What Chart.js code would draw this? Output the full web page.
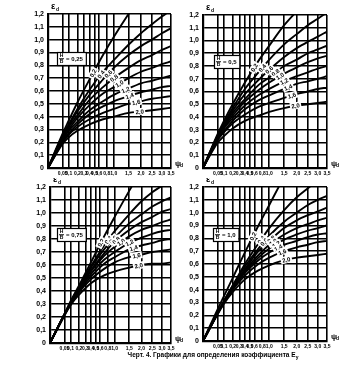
<!DOCTYPE html>
<html><head><meta charset="utf-8">
<script src="https://cdn.jsdelivr.net/npm/chart.js@4.4.1/dist/chart.umd.min.js"></script>
<style>
html,body{margin:0;padding:0;background:#fff;width:356px;height:365px;overflow:hidden;}
canvas{position:absolute;}
#cap{position:absolute;left:118px;top:351px;width:190px;text-align:center;font:bold 6.5px "Liberation Sans",Arial,sans-serif;color:#000;white-space:nowrap;}
#cap sub{font-size:5px;}
</style></head><body>
<canvas id="c0"></canvas><canvas id="c1"></canvas><canvas id="c2"></canvas><canvas id="c3"></canvas>
<div id="cap">Черт. 4. Графики для определения коэффициента E<sub>y</sub></div>
<script>
// ---- data ----
const psi = [0, 0.05, 0.1, 0.2, 0.4, 0.7, 1.0, 1.5, 2.0, 2.5, 3.0, 3.5];
const curveLabels = ['0,2','0,4','0,6','0,8','1,0','1,2','1,4','1,6','2,0'];
const xTickValues = [0.05,0.1,0.2,0.3,0.4,0.5,0.6,0.8,1.0,1.5,2.0,2.5,3.0,3.5];
const xTickLabels = ['0,05','0,1','0,2','0,3','0,4','0,5','0,6','0,8','1,0','1,5','2,0','2,5','3,0','3,5'];
const yTickValues = [0,0.1,0.2,0.3,0.4,0.5,0.6,0.7,0.8,0.9,1.0,1.1,1.2];
const yTickLabels = ['0','0,1','0,2','0,3','0,4','0,5','0,6','0,7','0,8','0,9','1,0','1,1','1,2'];
const ratioLabels = ['0,25','0,5','0,75','1,0'];

// H/B = 0,25
const epsA = [
 [0,.27,.37,.51,.69,.88,1.02,1.20,1.34,1.46,1.56,1.65],
 [0,.25,.34,.46,.61,.75,.84,.96,1.05,1.12,1.18,1.23],
 [0,.25,.33,.44,.57,.69,.78,.88,.95,1.00,1.05,1.09],
 [0,.24,.32,.41,.53,.63,.70,.78,.84,.88,.92,.95],
 [0,.23,.30,.39,.49,.58,.63,.70,.75,.78,.81,.83],
 [0,.22,.29,.36,.45,.52,.57,.62,.66,.68,.70,.72],
 [0,.21,.27,.34,.42,.48,.52,.56,.59,.61,.63,.64],
 [0,.20,.26,.32,.38,.43,.46,.50,.52,.54,.55,.56],
 [0,.19,.24,.29,.34,.38,.40,.43,.44,.45,.46,.47]
];
// H/B = 0,5
const epsB = [
 [0,.27,.37,.50,.67,.84,.96,1.12,1.23,1.33,1.41,1.47],
 [0,.26,.35,.47,.62,.75,.85,.97,1.05,1.12,1.17,1.22],
 [0,.25,.34,.45,.58,.69,.77,.87,.94,.99,1.03,1.07],
 [0,.25,.33,.43,.54,.65,.71,.80,.85,.90,.93,.96],
 [0,.24,.32,.41,.52,.61,.67,.74,.79,.83,.86,.88],
 [0,.23,.31,.39,.49,.57,.62,.68,.72,.75,.78,.80],
 [0,.23,.29,.37,.46,.53,.57,.62,.66,.68,.70,.72],
 [0,.22,.28,.35,.42,.48,.51,.55,.58,.60,.62,.63],
 [0,.20,.25,.31,.37,.41,.44,.47,.49,.50,.51,.52]
];
// H/B = 0,75
const epsC = [
 [0,.22,.32,.44,.62,.82,.97,1.17,1.33,1.46,1.58,1.68],
 [0,.22,.31,.43,.59,.75,.86,.99,1.09,1.16,1.21,1.26],
 [0,.22,.31,.43,.58,.72,.81,.92,.99,1.05,1.09,1.12],
 [0,.22,.31,.42,.56,.69,.78,.87,.93,.97,1.01,1.03],
 [0,.22,.30,.41,.55,.67,.74,.82,.87,.90,.93,.95],
 [0,.22,.30,.41,.53,.64,.70,.77,.81,.84,.86,.87],
 [0,.22,.30,.40,.51,.61,.66,.72,.75,.77,.79,.80],
 [0,.22,.29,.39,.49,.57,.62,.66,.68,.70,.71,.72],
 [0,.21,.29,.37,.46,.52,.55,.58,.60,.61,.61,.62]
];
// H/B = 1,0
const epsD = [
 [0,.25,.35,.49,.69,.90,1.06,1.28,1.45,1.60,1.72,1.83],
 [0,.22,.31,.43,.60,.76,.88,1.02,1.12,1.19,1.25,1.30],
 [0,.22,.31,.43,.58,.72,.82,.93,1.00,1.06,1.10,1.13],
 [0,.22,.31,.42,.56,.70,.78,.88,.94,.98,1.01,1.04],
 [0,.22,.30,.42,.55,.67,.75,.83,.88,.91,.94,.96],
 [0,.22,.30,.41,.54,.65,.72,.79,.83,.86,.88,.90],
 [0,.22,.30,.40,.53,.63,.69,.75,.78,.81,.83,.84],
 [0,.22,.30,.40,.51,.60,.65,.70,.73,.75,.77,.78],
 [0,.21,.29,.38,.48,.55,.59,.63,.65,.66,.67,.68]
];

// ---- layout (pixels) ----
const panels = [
 {id:'c0', eps:epsA, ratio:ratioLabels[0], box:[0,0,190,182],   area:[48,14,171,168], rbox:[9,38],  lab:[0.47,0.65,0.84,1.01,1.18,1.39,1.54,1.8,1.94]},
 {id:'c1', eps:epsB, ratio:ratioLabels[1], box:[176,0,180,182], area:[203,15,327,168], rbox:[11,40], lab:[0.6,0.8,1.0,1.2,1.35,1.5,1.65,1.8,1.95]},
 {id:'c2', eps:epsC, ratio:ratioLabels[2], box:[0,178,190,184], area:[50,187,171,343], rbox:[7,41],  lab:[0.62,0.81,0.95,1.05,1.21,1.51,1.67,1.79,1.88]},
 {id:'c3', eps:epsD, ratio:ratioLabels[3], box:[176,178,180,184], area:[203,187,327,341], rbox:[10,41], lab:[0.57,0.77,0.85,1.06,1.12,1.22,1.29,1.43,1.58]}
];

const FONT = '"Liberation Sans", Arial, sans-serif';

function interp(vals, p) {
  const s = Math.sqrt(p);
  for (let i = 1; i < psi.length; i++) {
    const s0 = Math.sqrt(psi[i-1]), s1 = Math.sqrt(psi[i]);
    if (s <= s1) { const t = (s - s0) / (s1 - s0); return vals[i-1] + t * (vals[i] - vals[i-1]); }
  }
  return vals[vals.length-1];
}

const annot = {
  id: 'annot',
  afterDatasetsDraw(chart, args, opts) {
    const P = opts.panel;
    const ctx = chart.ctx, xs = chart.scales.x, ys = chart.scales.y, a = chart.chartArea;
    ctx.save();
    ctx.textAlign = 'center'; ctx.textBaseline = 'middle';
    P.eps.forEach((vals, k) => {
      const p = P.lab[k];
      const v = interp(vals, p);
      if (v > 1.18) return;
      const px = xs.getPixelForValue(Math.sqrt(p)), py = ys.getPixelForValue(v);
      const sa = Math.sqrt(p) - 0.05, sb = Math.sqrt(p) + 0.05;
      const pxa = xs.getPixelForValue(sa), pya = ys.getPixelForValue(interp(vals, sa * sa));
      const pxb = xs.getPixelForValue(sb), pyb = ys.getPixelForValue(interp(vals, sb * sb));
      const ang = Math.atan2(pyb - pya, pxb - pxa);
      ctx.save();
      ctx.translate(px, py); ctx.rotate(ang);
      ctx.font = 'bold 6px ' + FONT;
      const w = ctx.measureText(curveLabels[k]).width + 3;
      ctx.fillStyle = '#fff'; ctx.fillRect(-w/2, -3.5, w, 7);
      ctx.fillStyle = '#000'; ctx.fillText(curveLabels[k], 0, 0.5);
      ctx.restore();
    });
    const bx = a.left + P.rbox[0], by = a.top + P.rbox[1];
    ctx.font = 'bold 6px ' + FONT;
    const eqTxt = '= ' + P.ratio;
    const bw = 9 + ctx.measureText(eqTxt).width + 3, bh = 13;
    ctx.fillStyle = '#fff'; ctx.fillRect(bx, by, bw, bh);
    ctx.strokeStyle = '#000'; ctx.lineWidth = 1.2; ctx.strokeRect(bx + 0.5, by + 0.5, bw, bh);
    ctx.fillStyle = '#000';
    ctx.font = 'bold 5px ' + FONT;
    ctx.fillText('H', bx + 4.5, by + 3.5);
    ctx.fillText('B', bx + 4.5, by + 9.8);
    ctx.fillRect(bx + 2, by + 6.3, 5, 0.9);
    ctx.font = 'bold 6px ' + FONT;
    ctx.textAlign = 'left';
    ctx.fillText(eqTxt, bx + 9, by + 7);
    ctx.font = 'bold 9px ' + FONT;
    ctx.fillText('ε', a.left + 3, a.top - 7);
    ctx.font = 'bold 5px ' + FONT;
    ctx.fillText('d', a.left + 8, a.top - 4);
    ctx.font = 'bold 8px ' + FONT;
    ctx.fillText('ψ', a.right + 4, a.bottom - 4);
    ctx.font = 'bold 5px ' + FONT;
    ctx.fillText('d', a.right + 9, a.bottom - 2);
    ctx.restore();
  }
};

panels.forEach(P => {
  const [L, T, W, H] = P.box, [x0, y0, x1, y1] = P.area;
  const cv = document.getElementById(P.id);
  cv.style.left = L + 'px'; cv.style.top = T + 'px';
  cv.width = W; cv.height = H; cv.style.width = W + 'px'; cv.style.height = H + 'px';
  const yW = x0 - L, xH = T + H - y1;
  new Chart(cv, {
    type: 'line',
    data: {
      datasets: P.eps.map((vals, k) => ({
        label: curveLabels[k],
        data: psi.map((p, i) => ({x: Math.sqrt(p), y: vals[i]})),
        borderColor: '#000', borderWidth: 1.9, pointRadius: 0,
        cubicInterpolationMode: 'monotone', fill: false
      }))
    },
    options: {
      responsive: false, animation: false, devicePixelRatio: 1,
      layout: {padding: {left: 0, top: y0 - T, right: L + W - x1, bottom: 0}},
      plugins: {legend: {display: false}, tooltip: {enabled: false}, annot: {panel: P}},
      scales: {
        x: {
          type: 'linear', min: 0, max: Math.sqrt(3.5),
          afterBuildTicks: s => { s.ticks = xTickValues.map(v => ({value: Math.sqrt(v)})); },
          afterFit: s => { s.height = xH; },
          ticks: {autoSkip: false, maxRotation: 0, padding: 3, color: '#000',
                  font: {family: FONT, size: 5, weight: 'bold'},
                  callback: (v, i) => xTickLabels[i]},
          grid: {color: '#000', lineWidth: 1.6, drawTicks: false},
          border: {color: '#000', width: 2.2}
        },
        y: {
          min: 0, max: 1.2,
          afterBuildTicks: s => { s.ticks = yTickValues.map(v => ({value: v})); },
          afterFit: s => { s.width = yW; },
          ticks: {padding: 4, color: '#000', font: {family: FONT, size: 7, weight: 'bold'},
                  callback: (v, i) => yTickLabels[i]},
          grid: {color: '#000', lineWidth: 1.6, drawTicks: false},
          border: {color: '#000', width: 2.2}
        }
      }
    },
    plugins: [annot]
  });
});
</script>
</body></html>
